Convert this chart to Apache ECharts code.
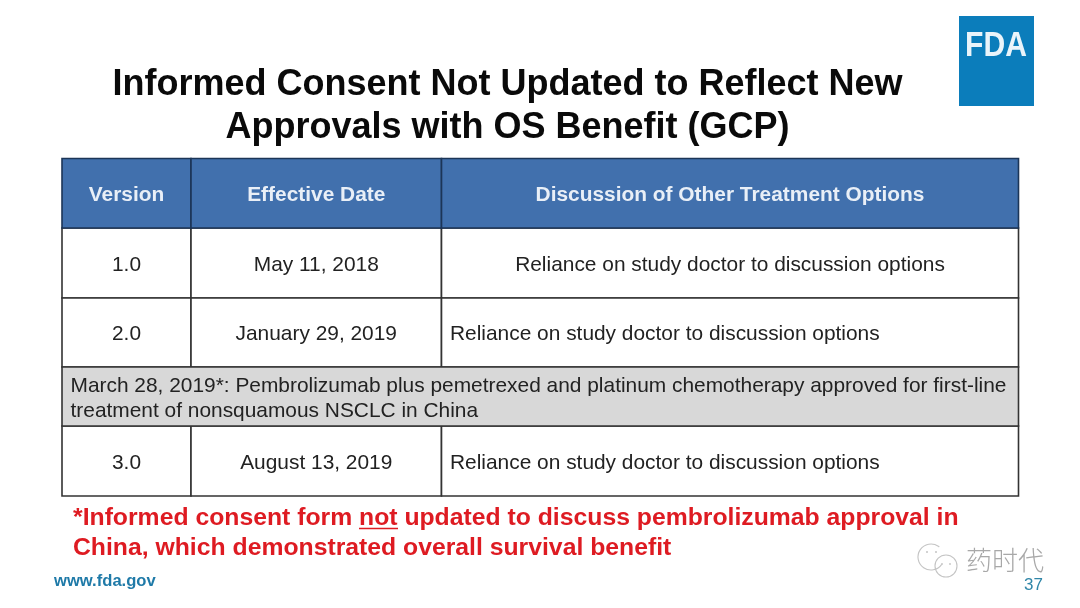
<!DOCTYPE html>
<html>
<head>
<meta charset="utf-8">
<title>Informed Consent</title>
<style>html,body{margin:0;padding:0;background:#fff}#main{width:1080px;height:608px}</style>
<script src="https://cdn.jsdelivr.net/npm/echarts@6/dist/echarts.min.js"></script>
</head>
<body>
<div id="main"></div>
<script>
var titleLines = ['Informed Consent Not Updated to Reflect New', 'Approvals with OS Benefit (GCP)'];
var headers = ['Version', 'Effective Date', 'Discussion of Other Treatment Options'];
var versions = ['1.0', '2.0', '3.0'];
var dates = ['May 11, 2018', 'January 29, 2019', 'August 13, 2019'];
var discussions = [
    'Reliance on study doctor to discussion options',
    'Reliance on study doctor to discussion options',
    'Reliance on study doctor to discussion options'
];
var noteRow = 'March 28, 2019*: Pembrolizumab plus pemetrexed and platinum chemotherapy approved for first-line\ntreatment of nonsquamous NSCLC in China';
var footnote = '*Informed consent form not updated to discuss pembrolizumab approval in\nChina, which demonstrated overall survival benefit';

// table geometry, px
var colWidths = [129, 250.5, 577];
var rowHeights = [69.5, 70, 69, 59, 70];
var FONT = '"Liberation Sans", Arial, sans-serif';

var colEdges = [0];
colWidths.forEach(function (w, i) { colEdges.push(colEdges[i] + w); });
var rowEdges = [0];
rowHeights.forEach(function (h, i) { rowEdges.push(rowEdges[i] + h); });

// one entry per cell: body first so the header border ends up on top
var cells = [];
function addCell(c0, c1, r, text, kind, align) {
    cells.push({
        value: [colEdges[c0], colEdges[c1], rowEdges[r], rowEdges[r + 1]],
        text: text, kind: kind, align: align
    });
}
var bodyRows = [1, 2, 4];
versions.forEach(function (v, i) {
    addCell(0, 1, bodyRows[i], v, 'body', 'center');
    addCell(1, 2, bodyRows[i], dates[i], 'body', 'center');
    addCell(2, 3, bodyRows[i], discussions[i], 'body', i === 0 ? 'center' : 'left');
});
addCell(0, 3, 3, noteRow, 'note', 'left');
headers.forEach(function (h, i) {
    addCell(i, i + 1, 0, h, 'head', 'center');
});

function renderCell(params, api) {
    var cell = cells[params.dataIndex];
    var p0 = api.coord([api.value(0), api.value(2)]);
    var p1 = api.coord([api.value(1), api.value(3)]);
    var isHead = cell.kind === 'head';
    var fill = isHead ? '#4170ad' : (cell.kind === 'note' ? '#d8d8d8' : '#fff');
    var left = cell.align === 'left';
    return {
        type: 'group',
        children: [{
            type: 'rect',
            shape: { x: p0[0], y: p0[1], width: p1[0] - p0[0], height: p1[1] - p0[1] },
            style: { fill: fill, stroke: isHead ? '#1c3557' : '#333', lineWidth: 1.6 }
        }, {
            type: 'text',
            style: {
                x: left ? p0[0] + 8.5 : (p0[0] + p1[0]) / 2,
                y: (p0[1] + p1[1]) / 2 + 2,
                text: cell.text,
                align: cell.align,
                verticalAlign: 'middle',
                fill: isHead ? '#e9eff7' : '#222',
                font: (isHead ? 'bold ' : '') + '20.9px ' + FONT,
                lineHeight: 25.5
            }
        }]
    };
}

var myChart = echarts.init(document.getElementById('main'), null, { renderer: 'canvas' });
var option = {
    backgroundColor: '#fff',
    animation: false,
    title: {
        text: titleLines.join('\n'),
        left: 502.5, top: 59, textAlign: 'center',
        textStyle: { fontFamily: FONT, fontWeight: 'bold', fontSize: 36, lineHeight: 43, color: '#0a0a0a' }
    },
    grid: { left: 62, top: 158.5, width: 956.5, height: 337.5 },
    xAxis: { type: 'value', min: 0, max: 956.5, show: false },
    yAxis: { type: 'value', min: 0, max: 337.5, inverse: true, show: false },
    series: [{
        type: 'custom',
        coordinateSystem: 'cartesian2d',
        renderItem: renderCell,
        data: cells.map(function (c) { return c.value; }),
        silent: true
    }],
    graphic: [
        { type: 'rect', shape: { x: 959, y: 16, width: 75, height: 90 }, style: { fill: '#0b7dbb' } },
        { type: 'text', x: 996, y: 46.5, scaleX: 0.86, style: { x: 0, y: 0, text: 'FDA', align: 'center', verticalAlign: 'middle', fill: '#eaf4fa', font: 'bold 35px ' + FONT } },
        { type: 'text', style: { x: 73, y: 533, text: footnote, align: 'left', verticalAlign: 'middle', fill: '#de1b22', font: 'bold 24.75px ' + FONT, lineHeight: 30 } },
        { type: 'line', shape: { x1: 359, y1: 528.5, x2: 398, y2: 528.5 }, style: { stroke: '#de1b22', lineWidth: 1.6 } },
        { type: 'text', style: { x: 54, y: 581, text: 'www.fda.gov', align: 'left', verticalAlign: 'middle', fill: '#1f7aa8', font: 'bold 16.6px ' + FONT } },
        { type: 'text', style: { x: 1043, y: 585, text: '37', align: 'right', verticalAlign: 'middle', fill: '#2f86a8', font: '17px ' + FONT } },
        // watermark
        { type: 'arc', shape: { cx: 931, cy: 557, r: 13, startAngle: 0.6, endAngle: 5.4 }, style: { fill: 'none', stroke: '#c4c4c4', lineWidth: 1.1 } },
        { type: 'arc', shape: { cx: 946, cy: 566, r: 11, startAngle: 0, endAngle: 6.28 }, style: { fill: 'none', stroke: '#c4c4c4', lineWidth: 1.1 } },
        { type: 'circle', shape: { cx: 927, cy: 552, r: 1 }, style: { fill: '#c4c4c4' } },
        { type: 'circle', shape: { cx: 936, cy: 552, r: 1 }, style: { fill: '#c4c4c4' } },
        { type: 'circle', shape: { cx: 942, cy: 564, r: 0.9 }, style: { fill: '#c4c4c4' } },
        { type: 'circle', shape: { cx: 950, cy: 564, r: 0.9 }, style: { fill: '#c4c4c4' } },
        { type: 'text', style: { x: 1005, y: 560, text: '药时代', align: 'center', verticalAlign: 'middle', fill: '#a8a8a8', font: '200 26px "Noto Sans CJK SC"' } }
    ]
};
myChart.setOption(option);
</script>
</body>
</html>
